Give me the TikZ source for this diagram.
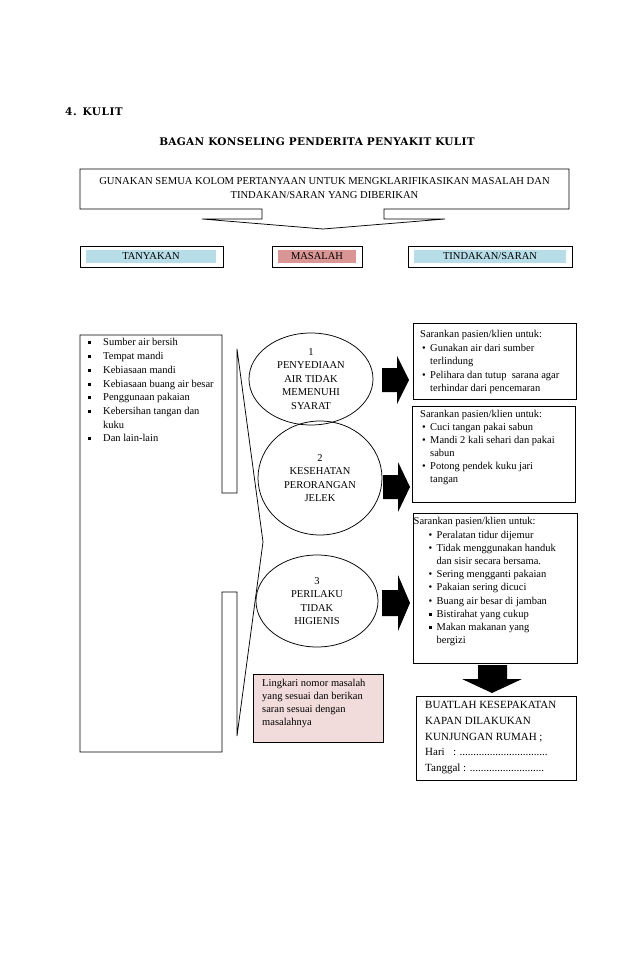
\documentclass[tikz,border=0pt]{standalone}
\usepackage{fontspec}
\setmainfont{Liberation Serif}
\newfontfamily\titlefont{DejaVu Serif}
\usetikzlibrary{shapes.geometric}
\definecolor{tblue}{HTML}{B7DDE8}
\definecolor{mrose}{HTML}{D99694}
\definecolor{lpink}{HTML}{F2DCDB}
\newcommand{\bul}[1]{\hspace*{#1}\makebox[8pt][l]{\textbullet}}
\newcommand{\sqb}{\makebox[15pt][l]{\rule[1.5pt]{3pt}{3pt}}}
\newcommand{\sqbb}[1]{\hspace*{#1}\makebox[8pt][l]{\rule[1.6pt]{2.8pt}{2.8pt}}}
\begin{document}
\begin{tikzpicture}[x=1pt,y=-1pt,
  outl/.style={draw=black,line width=0.75pt},
  body/.style={inner sep=0pt,align=left,anchor=north west,font=\fontsize{10.5}{13.5}\selectfont},
  ell/.style={ellipse,draw=black,line width=0.75pt,inner sep=0pt,align=center,font=\fontsize{10.5}{13.5}\selectfont},
  hdr/.style={draw=black,line width=0.75pt,inner sep=0pt,minimum height=21pt},
  hfill/.style={inner sep=0pt,minimum height=13pt,font=\fontsize{10.5}{12}\selectfont},
  blk/.style={fill=black}]
\fill[white] (0,0) rectangle (638,976);
\useasboundingbox (0,0) rectangle (638,976);

% headings
\node[anchor=west,inner sep=0pt,font=\titlefont\bfseries\fontsize{10.5}{12}\selectfont\addfontfeatures{LetterSpace=5}] (sec) at (65,112) {4.\hspace{6pt}KULIT};
\node[inner sep=0pt,font=\titlefont\bfseries\fontsize{10.5}{12}\selectfont\addfontfeatures{LetterSpace=3}] (title) at (317,142) {BAGAN KONSELING PENDERITA PENYAKIT KULIT};

% top callout
\draw[outl] (80,169) -- (569,169) -- (569,209) -- (384,209) -- (384,219) -- (445,219) -- (323,229) -- (202,219) -- (262,219) -- (262,209) -- (80,209) -- cycle;
\node[inner sep=0pt,align=center,font=\fontsize{10.6}{14}\selectfont] (intro) at (324.5,188) {GUNAKAN SEMUA KOLOM PERTANYAAN UNTUK MENGKLARIFIKASIKAN MASALAH DAN\\TINDAKAN/SARAN YANG DIBERIKAN};

% header boxes
\node[hdr,minimum width=143pt] (tanyaBox) at (151.5,256.5) {};
\node[hfill,fill=tblue,minimum width=130pt] (tanya) at (151,256.5) {TANYAKAN};
\node[hdr,minimum width=90pt] (masBox) at (317,256.5) {};
\node[hfill,fill=mrose,minimum width=78pt] (mas) at (317,256.5) {MASALAH};
\node[hdr,minimum width=164pt] (tinBox) at (490,256.5) {};
\node[hfill,fill=tblue,minimum width=152pt] (tin) at (490,256.5) {TINDAKAN/SARAN};

% left callout
\draw[outl] (80,335) -- (222,335) -- (222,493) -- (237,493) -- (237,349) -- (263,542) -- (237,736) -- (237,592) -- (222,592) -- (222,752) -- (80,752) -- cycle;
\node[body,font=\fontsize{10.5}{13.7}\selectfont] (qlist) at (88,338.5) {\sqb Sumber air bersih\\\sqb Tempat mandi\\\sqb Kebiasaan mandi\\\sqb Kebiasaan buang air besar\\\sqb Penggunaan pakaian\\\sqb Kebersihan tangan dan\\\hspace*{15pt}kuku\\\sqb Dan lain-lain};

% ellipses
\node[ell,minimum width=124pt,minimum height=92pt] (e1) at (311,379) {1\\PENYEDIAAN\\AIR TIDAK\\MEMENUHI\\SYARAT};
\node[ell,minimum width=124pt,minimum height=114pt] (e2) at (320,478) {2\\KESEHATAN\\PERORANGAN\\JELEK};
\node[ell,minimum width=122pt,minimum height=92pt] (e3) at (317,601) {3\\PERILAKU\\TIDAK\\HIGIENIS};

% block arrows
\fill[blk] (382,368) -- (397,368) -- (397,356) -- (409,380) -- (397,404) -- (397,392) -- (382,392) -- cycle;
\fill[blk] (383,475) -- (398,475) -- (398,462) -- (410,487) -- (398,512) -- (398,499) -- (383,499) -- cycle;
\fill[blk] (382,590) -- (398,590) -- (398,575) -- (410,603) -- (398,631) -- (398,616) -- (382,616) -- cycle;
\fill[blk] (478,665) -- (507,665) -- (507,679) -- (522,679) -- (492,693) -- (462,679) -- (478,679) -- cycle;

% right boxes
\draw[outl] (413,323) rectangle (576,399);
\node[body] (sa) at (420,330.5) {Sarankan pasien/klien untuk:\\\bul{2pt}Gunakan air dari sumber\\\hspace*{10pt}terlindung\\\bul{2pt}Pelihara dan tutup\ \ sarana agar\\\hspace*{10pt}terhindar dari pencemaran};

\draw[outl] (412,406) rectangle (575,502);
\node[body,font=\fontsize{10.5}{13}\selectfont] (sb) at (420,410.5) {Sarankan pasien/klien untuk:\\\bul{2pt}Cuci tangan pakai sabun\\\bul{2pt}Mandi 2 kali sehari dan pakai\\\hspace*{10pt}sabun\\\bul{2pt}Potong pendek kuku jari\\\hspace*{10pt}tangan};

\draw[outl] (413,513) rectangle (577,663);
\node[body,font=\fontsize{10.5}{13.2}\selectfont] (sc) at (413.5,517.5) {Sarankan pasien/klien untuk:\\\bul{15pt}Peralatan tidur dijemur\\\bul{15pt}Tidak menggunakan handuk\\\hspace*{23pt}dan sisir secara bersama.\\\bul{15pt}Sering mengganti pakaian\\\bul{15pt}Pakaian sering dicuci\\\bul{15pt}Buang air besar di jamban\\\sqbb{15pt}Bistirahat yang cukup\\\sqbb{15pt}Makan makanan yang\\\hspace*{23pt}bergizi};

% agreement box
\draw[outl] (416,696) rectangle (576,780);
\node[body,font=\fontsize{11}{15.8}\selectfont] (sd) at (425,701) {BUATLAH KESEPAKATAN\\KAPAN DILAKUKAN\\KUNJUNGAN RUMAH ;\\Hari\ \ \ : ................................\\Tanggal : ...........................};

% note box
\draw[outl,fill=lpink] (253,674) rectangle (383,742);
\node[body,font=\fontsize{10.5}{13}\selectfont] (note) at (262,679.5) {Lingkari nomor masalah\\yang sesuai dan berikan\\saran sesuai dengan\\masalahnya};
\end{tikzpicture}
\end{document}
